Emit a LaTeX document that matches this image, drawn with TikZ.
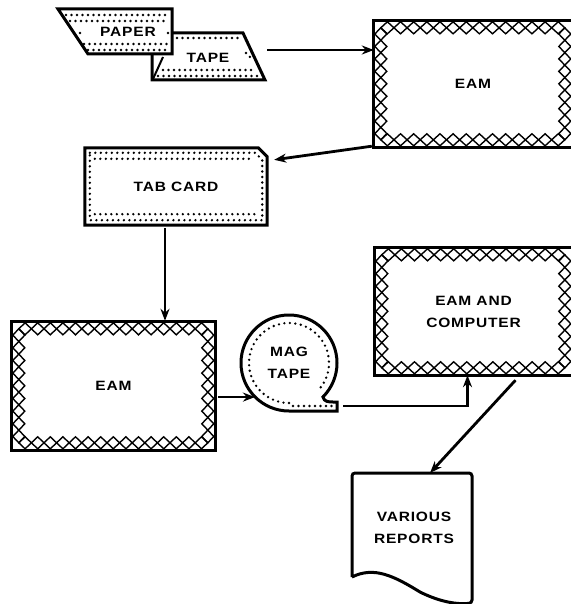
\documentclass[tikz,border=0pt]{standalone}
\usepackage{fontspec}
\newfontfamily\boxfont[FakeStretch=1.15,LetterSpace=6]{Liberation Sans}
\usepackage{tikz}
\usetikzlibrary{positioning, arrows.meta, calc}

\tikzset{
  frame/.style={line width=3pt},
  xchain/.style={line width=1.4pt, line join=miter},
  dots/.style={line width=2.6pt, line cap=round, dash pattern=on 0pt off 5.5pt},
  arr/.style={-{Stealth[length=12pt,width=9pt]}, line width=2.8pt},
  boxtext/.style={font=\boxfont\bfseries\fontsize{13.5}{22}\selectfont, align=center},
}

% border of crosses round an EAM box: name, width, height
\newcommand\eamframe[3]{%
  \pgfmathtruncatemacro\nx{round((#2-14)/13)}
  \pgfmathsetmacro\sx{(#2-14)/\nx}
  \pgfmathtruncatemacro\ny{round((#3-14)/13)}
  \pgfmathsetmacro\sy{(#3-14)/\ny}
  \foreach \k in {1,...,\nx}{
    \draw[xchain] ([shift={({7+(\k-1)*\sx},7)}]#1.north west) -- ++(\sx/2,-6) -- ++(\sx/2,6) -- ++(-\sx/2,6) -- cycle;
    \draw[xchain] ([shift={({7+(\k-1)*\sx},{#3-7})}]#1.north west) -- ++(\sx/2,-6) -- ++(\sx/2,6) -- ++(-\sx/2,6) -- cycle;}
  \foreach \k in {1,...,\ny}{
    \draw[xchain] ([shift={(7,{7+(\k-1)*\sy})}]#1.north west) -- ++(6,\sy/2) -- ++(-6,\sy/2) -- ++(-6,-\sy/2) -- cycle;
    \draw[xchain] ([shift={({#2-7},{7+(\k-1)*\sy})}]#1.north west) -- ++(6,\sy/2) -- ++(-6,\sy/2) -- ++(-6,-\sy/2) -- cycle;}
  \draw[frame] (#1.north west) rectangle (#1.south east);}

\begin{document}
\begin{tikzpicture}[x=1pt, y=-1pt]
    \useasboundingbox (0,0) rectangle (570,604);

    % paper tape
    \draw[frame, fill=white] (152,33) -- (243,33) -- (265,80) -- (152,80) -- cycle;
    \draw[frame, fill=white] (58,9) -- (172,9) -- (172,54) -- (88,54) -- cycle;
    \draw[line width=2pt] (153,79) -- (163,57);
    \draw[dots] (66,15) -- (168,15);
    \draw[dots] (70,21) -- (168,21);
    \draw[dots] (84,44) -- (168,44);
    \draw[dots] (88,50) -- (168,50);
    \draw[dots] (80,33) -- (82,33) (168,33) -- (169,33);
    \draw[dots] (177,38) -- (240,38);
    \draw[dots] (163,70) -- (255,70);
    \draw[dots] (158,76) -- (260,76);
    \draw[dots] (246,53) -- (253,60);
    \node[boxtext] (paper) at (128,32) {PAPER};
    \node[boxtext] (tape) at (208,58) {TAPE};
    \coordinate (tapeout) at (267,50);

    % boxes
    \node[boxtext, minimum width=198pt, minimum height=126pt] (eam1) at (473,84) {EAM};
    \eamframe{eam1}{198}{126}
    \node[boxtext, minimum width=182pt, minimum height=77pt] (tabcard) at (176,186.5) {TAB CARD};
    \draw[frame] (tabcard.north west) -- ([shift={(-9,0)}]tabcard.north east) -- ([shift={(0,9)}]tabcard.north east)
      -- (tabcard.south east) -- (tabcard.south west) -- cycle;
    \draw[dots] ([shift={(5,5)}]tabcard.north west) -- ([shift={(-12,5)}]tabcard.north east)
      -- ([shift={(-5,12)}]tabcard.north east) -- ([shift={(-5,-5)}]tabcard.south east)
      -- ([shift={(5,-5)}]tabcard.south west) -- cycle;
    \draw[dots] ([shift={(10,11)}]tabcard.north west) -- ([shift={(-14,11)}]tabcard.north east);
    \draw[dots] ([shift={(10,-11)}]tabcard.south west) -- ([shift={(-10,-11)}]tabcard.south east);
    \node[boxtext, minimum width=203pt, minimum height=128pt] (eam2) at (113.5,386) {EAM};
    \eamframe{eam2}{203}{128}
    \node[boxtext, circle, minimum size=96pt, inner sep=0pt] (magtape) at (289,363) {MAG\\TAPE};
    \draw[frame] ($(magtape.center)+(0,48)$) arc[start angle=90, end angle=405, radius=48]
      .. controls +(1,5) and +(-4,0) .. ($(magtape.center)+(44,39)$) -- ($(magtape.center)+(48,39)$)
      -- ($(magtape.center)+(48,48)$) -- cycle;
    \draw[dots] ($(magtape.center)+(0,40)$) arc[start angle=90, end angle=398, radius=40];
    \draw[dots] ($(magtape.center)+(4,43)$) -- ($(magtape.center)+(45,43)$);
    \coordinate (tapetail) at ($(magtape.center)+(48,43)$);
    \node[boxtext, minimum width=197pt, minimum height=127pt] (eamcomp) at (473.5,311.5) {EAM AND\\COMPUTER};
    \eamframe{eamcomp}{197}{127}
    \node[boxtext] (reports) at (414,528) {VARIOUS\\REPORTS};
    \draw[frame, rounded corners=3pt] ($(reports.center)+(-62,49)$) -- ($(reports.center)+(-62,-55)$)
      -- ($(reports.center)+(58,-55)$) -- ($(reports.center)+(58,75)$)
      [sharp corners] .. controls ($(reports.center)+(40,77)$) and ($(reports.center)+(22,72)$) .. ($(reports.center)+(6,64)$)
      .. controls ($(reports.center)+(-20,48)$) and ($(reports.center)+(-40,38)$) .. ($(reports.center)+(-62,49)$);

    % connectors
    \draw[arr] (tapeout) -- (tapeout -| eam1.west);
    \draw[arr] ([shift={(-2,-1)}]eam1.south west) -- ([shift={(7,12)}]tabcard.north east);
    \draw[arr] ($(tabcard.south)+(-11,3)$) -- ($(eam2.north)+(51.5,-1)$);
    \draw[arr] ([xshift=3pt]eam2.east |- magtape.225) -- (magtape.225);
    \draw[arr] ([xshift=6pt]tapetail) -| ([xshift=-6pt]eamcomp.south);
    \draw[arr] ([shift={(42,5)}]eamcomp.south) -- ($(reports.center)+(16,-55)$);
  \end{tikzpicture}
\end{document}
